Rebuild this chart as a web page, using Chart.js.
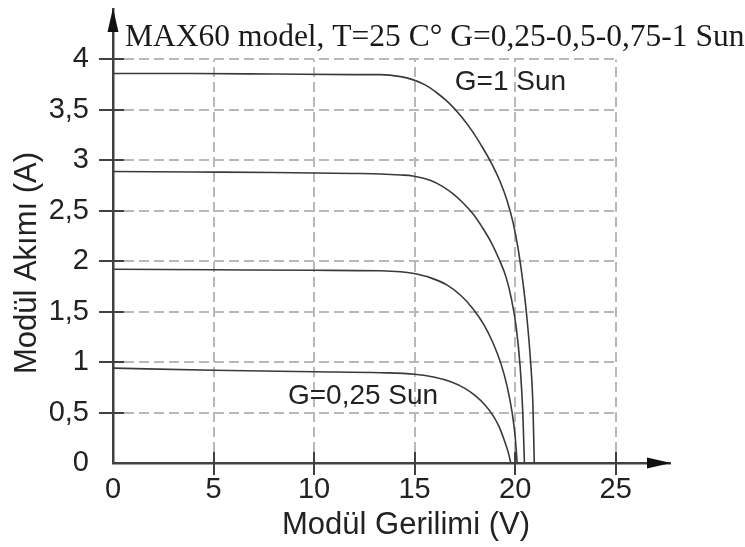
<!DOCTYPE html>
<html>
<head>
<meta charset="utf-8">
<title>MAX60 I-V</title>
<script src="https://cdn.jsdelivr.net/npm/chart.js@4.4.1/dist/chart.umd.min.js"></script>
<style>
  html, body { margin: 0; padding: 0; background: #fff; }
  #wrap { width: 745px; height: 547px; position: relative; }
</style>
</head>
<body>
<div id="wrap"><canvas id="ivChart"></canvas></div>
<script>
'use strict';

// I-V curves of the MAX60 module at 25 C, one per irradiance level
var sun100V = [0, 4, 8, 12, 13.3, 14.3, 14.9, 15.5, 16.1, 16.7, 17.3, 17.9, 18.4, 18.85, 19.25, 19.6, 19.9, 20.15, 20.38, 20.58, 20.75, 20.88, 20.95];
var sun100I = [3.86, 3.86, 3.855, 3.85, 3.85, 3.83, 3.80, 3.75, 3.67, 3.57, 3.44, 3.28, 3.12, 2.96, 2.79, 2.6, 2.38, 2.12, 1.8, 1.45, 1.05, 0.6, 0];

var sun75V = [0, 4, 8, 12, 13.3, 14.3, 14.9, 15.8, 16.4, 16.9, 17.4, 17.9, 18.35, 18.8, 19.2, 19.55, 19.8, 20.05, 20.25, 20.38, 20.46];
var sun75I = [2.89, 2.885, 2.88, 2.87, 2.865, 2.855, 2.845, 2.80, 2.74, 2.67, 2.58, 2.47, 2.34, 2.19, 2.02, 1.84, 1.64, 1.35, 0.95, 0.5, 0];

var sun50V = [0, 5, 10, 13.3, 14.3, 14.9, 15.8, 16.6, 17.3, 17.9, 18.45, 18.9, 19.3, 19.6, 19.85, 20.0, 20.1];
var sun50I = [1.92, 1.915, 1.91, 1.905, 1.895, 1.88, 1.835, 1.765, 1.66, 1.53, 1.37, 1.19, 0.98, 0.76, 0.5, 0.26, 0];

var sun25V = [0, 5, 10, 13.3, 15.0, 16.0, 16.8, 17.5, 18.0, 18.5, 18.9, 19.2, 19.45, 19.65, 19.78];
var sun25I = [0.94, 0.92, 0.905, 0.895, 0.88, 0.85, 0.805, 0.74, 0.67, 0.575, 0.47, 0.36, 0.23, 0.11, 0];

var xTicks = [0, 5, 10, 15, 20, 25];
var yTicks = [0, 0.5, 1, 1.5, 2, 2.5, 3, 3.5, 4];
var yTickLabels = ['0', '0,5', '1', '1,5', '2', '2,5', '3', '3,5', '4'];

var chartTitle = 'MAX60 model, T=25 C\u00b0 G=0,25-0,5-0,75-1 Sun';
var xTitle = 'Mod\u00fcl Gerilimi (V)';
var yTitle = 'Mod\u00fcl Ak\u0131m\u0131 (A)';
var curveLabels = [
  { text: 'G=1 Sun', x: 17.0, y: 3.77 },
  { text: 'G=0,25 Sun', x: 8.7, y: 0.665 }
];

var sansFont = "'Liberation Sans', Arial, sans-serif";
var serifFont = "'Liberation Serif', 'Times New Roman', serif";

function toPoints(vs, is) {
  return vs.map(function (v, i) { return { x: v, y: is[i] }; });
}

function curve(label, vs, is) {
  return {
    label: label,
    data: toPoints(vs, is),
    showLine: true,
    borderColor: '#3a3a3a',
    borderWidth: 1.6,
    pointRadius: 0,
    cubicInterpolationMode: 'monotone',
    fill: false
  };
}

// dashed grid, tick marks, arrows and the loose text
var ivDecor = {
  id: 'ivDecor',
  beforeDatasetsDraw: function (chart) {
    var ctx = chart.ctx, xs = chart.scales.x, ys = chart.scales.y;
    var x0 = xs.getPixelForValue(0), xEnd = xs.getPixelForValue(xTicks[xTicks.length - 1]);
    var y0 = ys.getPixelForValue(0), yEnd = ys.getPixelForValue(yTicks[yTicks.length - 1]);
    ctx.save();
    ctx.strokeStyle = '#b8b8b8';
    ctx.lineWidth = 2;
    ctx.setLineDash([10, 5]);
    yTicks.forEach(function (v) {
      if (v === 0) return;
      var y = Math.round(ys.getPixelForValue(v));
      ctx.beginPath(); ctx.moveTo(x0 + 11, y); ctx.lineTo(xEnd, y); ctx.stroke();
    });
    xTicks.forEach(function (v) {
      if (v === 0) return;
      var x = Math.round(xs.getPixelForValue(v));
      ctx.beginPath(); ctx.moveTo(x, y0 - 11); ctx.lineTo(x, yEnd); ctx.stroke();
    });
    ctx.restore();
  },
  afterDraw: function (chart) {
    var ctx = chart.ctx, xs = chart.scales.x, ys = chart.scales.y, area = chart.chartArea;
    var x0 = xs.getPixelForValue(0), y0 = ys.getPixelForValue(0);
    ctx.save();
    ctx.strokeStyle = '#404040';
    ctx.lineWidth = 2;
    yTicks.forEach(function (v) {
      if (v === 0) return;
      var y = Math.round(ys.getPixelForValue(v));
      ctx.beginPath(); ctx.moveTo(x0 - 14, y); ctx.lineTo(x0 + 11, y); ctx.stroke();
    });
    xTicks.forEach(function (v) {
      if (v === 0) return;
      var x = Math.round(xs.getPixelForValue(v));
      ctx.beginPath(); ctx.moveTo(x, y0 - 11); ctx.lineTo(x, y0 + 12); ctx.stroke();
    });

    // arrow heads on both axes
    ctx.fillStyle = '#111';
    ctx.beginPath();
    ctx.moveTo(x0, area.top - 1);
    ctx.lineTo(x0 - 5.5, area.top + 23);
    ctx.lineTo(x0 + 5.5, area.top + 23);
    ctx.closePath(); ctx.fill();
    ctx.beginPath();
    ctx.moveTo(area.right + 1, y0);
    ctx.lineTo(area.right - 23, y0 - 5.5);
    ctx.lineTo(area.right - 23, y0 + 5.5);
    ctx.closePath(); ctx.fill();

    // title in serif, left aligned next to the y arrow
    ctx.fillStyle = '#1a1a1a';
    ctx.font = '31.5px ' + serifFont;
    ctx.textAlign = 'left';
    ctx.textBaseline = 'alphabetic';
    ctx.fillText(chartTitle, x0 + 12, 46);

    // curve labels
    ctx.fillStyle = '#222';
    ctx.font = '28px ' + sansFont;
    ctx.textBaseline = 'middle';
    curveLabels.forEach(function (l) {
      ctx.fillText(l.text, xs.getPixelForValue(l.x), ys.getPixelForValue(l.y));
    });

    // axis titles
    ctx.font = '31px ' + sansFont;
    ctx.textAlign = 'center';
    ctx.fillText(xTitle, 406, 525);
    ctx.translate(27, 263);
    ctx.rotate(-Math.PI / 2);
    ctx.fillText(yTitle, 0, 0);
    ctx.restore();
  }
};

var config = {
  type: 'scatter',
  data: {
    datasets: [
      curve('G=1 Sun', sun100V, sun100I),
      curve('G=0,75 Sun', sun75V, sun75I),
      curve('G=0,5 Sun', sun50V, sun50I),
      curve('G=0,25 Sun', sun25V, sun25I)
    ]
  },
  options: {
    responsive: true,
    maintainAspectRatio: false,
    animation: false,
    devicePixelRatio: 1,
    layout: { padding: { top: 9, right: 75, bottom: 0, left: 0 } },
    plugins: {
      legend: { display: false },
      tooltip: { enabled: false }
    },
    scales: {
      x: {
        type: 'linear',
        min: 0,
        max: 27.7,
        afterBuildTicks: function (scale) {
          scale.ticks = xTicks.map(function (v) { return { value: v }; });
        },
        afterFit: function (scale) {
          scale.height = 84;
          scale.paddingLeft = 0;
          scale.paddingRight = 0;
        },
        grid: { display: false, drawTicks: false },
        border: { display: true, color: '#404040', width: 2.5 },
        ticks: {
          autoSkip: false,
          maxRotation: 0,
          padding: 10,
          color: '#222',
          font: { family: sansFont, size: 29 },
          callback: function (v) { return String(v); }
        }
      },
      y: {
        type: 'linear',
        min: 0,
        max: 4.5,
        afterBuildTicks: function (scale) {
          scale.ticks = yTicks.map(function (v) { return { value: v }; });
        },
        afterFit: function (scale) {
          scale.width = 113;
          scale.paddingTop = 0;
          scale.paddingBottom = 0;
        },
        grid: { display: false, drawTicks: false },
        border: { display: true, color: '#404040', width: 2.5 },
        ticks: {
          autoSkip: false,
          padding: 24,
          color: '#222',
          font: { family: sansFont, size: 29 },
          callback: function (v) {
            var i = yTicks.indexOf(v);
            return i >= 0 ? yTickLabels[i] : '';
          }
        }
      }
    }
  },
  plugins: [ivDecor]
};

window.ivChart = new Chart(document.getElementById('ivChart').getContext('2d'), config);
</script>
</body>
</html>
